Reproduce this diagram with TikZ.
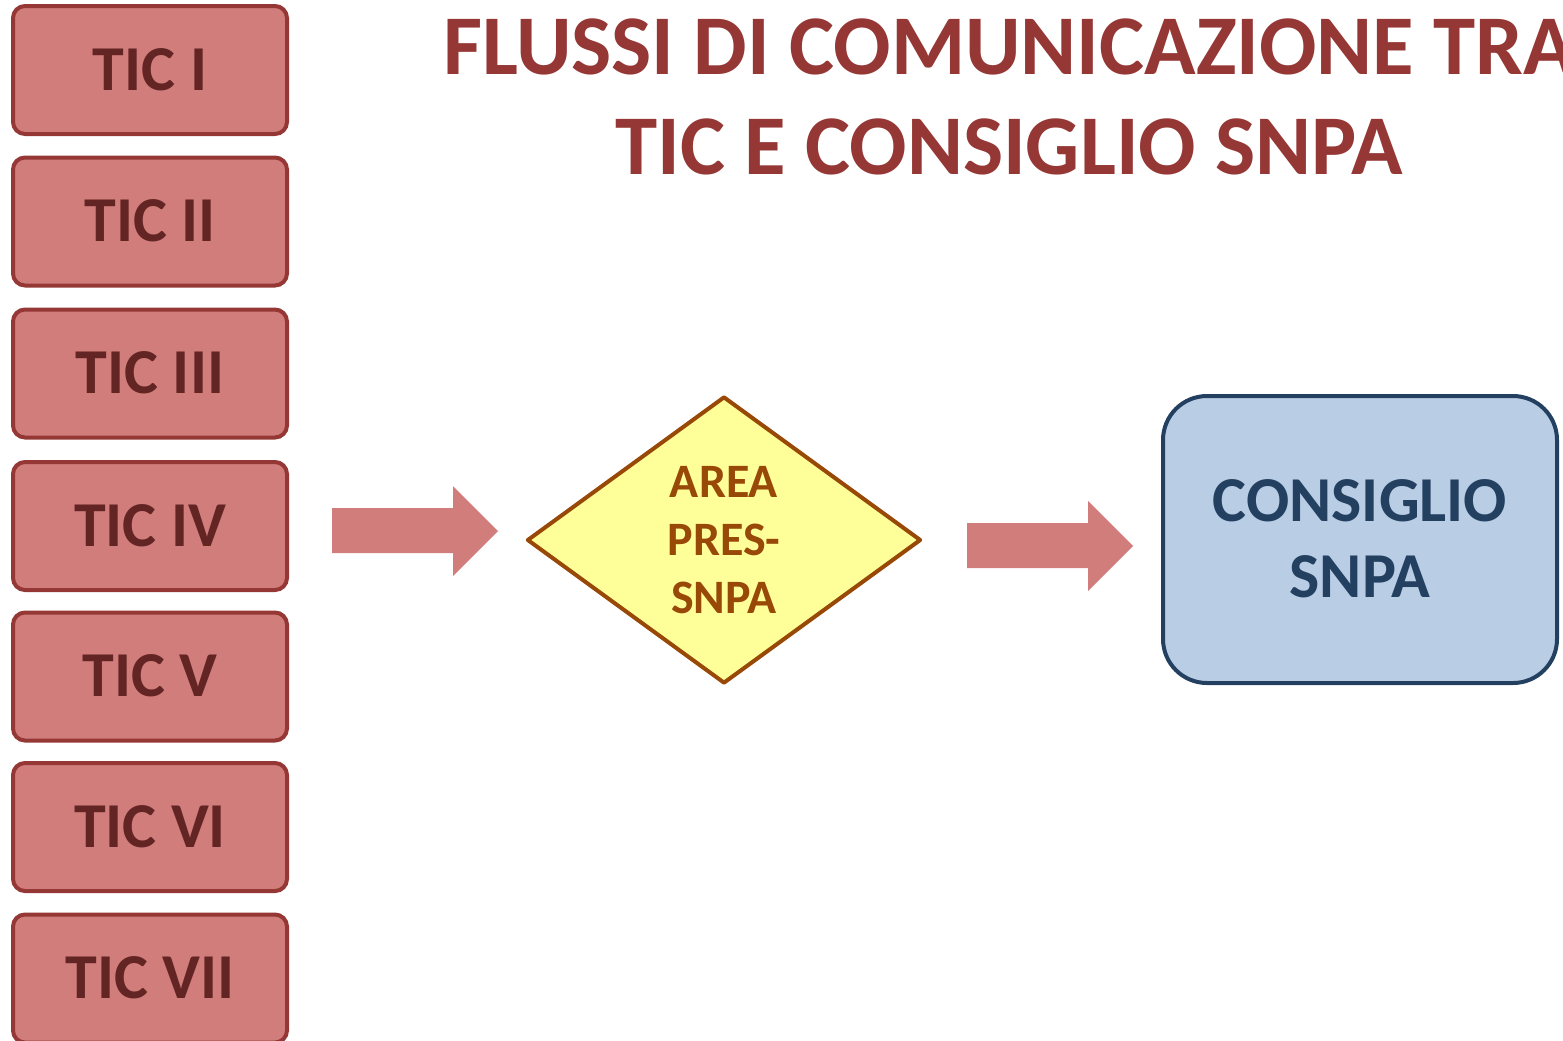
\documentclass[tikz,border=0pt]{standalone}
\usepackage{fontspec}
\setmainfont{Carlito}
\usetikzlibrary{shapes.geometric}
\definecolor{ticfill}{RGB}{208,125,123}
\definecolor{ticdraw}{RGB}{149,55,53}
\definecolor{tictext}{RGB}{99,37,35}
\definecolor{titlecol}{RGB}{149,55,53}
\definecolor{diamfill}{RGB}{255,255,153}
\definecolor{diamdraw}{RGB}{152,72,7}
\definecolor{consfill}{RGB}{185,205,229}
\definecolor{consdraw}{RGB}{36,64,97}
\tikzset{
  ticbox/.style={draw=ticdraw, fill=ticfill, line width=2pt, rounded corners=6pt,
    minimum width=137pt, minimum height=64pt, inner sep=0pt,
    font=\fontsize{32}{36}\selectfont\bfseries, text=tictext,
    text height=20.2pt, text depth=0pt},
  blockarrow/.style={fill=ticfill, draw=none}
}
\begin{document}
\begin{tikzpicture}[x=0.5pt, y=-0.5pt]
\useasboundingbox (0,0) rectangle (1563,1040);
% title
\node[font=\fontsize{42.5}{50}\selectfont\bfseries, text=titlecol, align=center,
  text height=76.8pt, text depth=0pt, inner sep=0pt] (title) at (1009,98)
  {FLUSSI DI COMUNICAZIONE TRA\\TIC E CONSIGLIO SNPA};
% TIC boxes
\node[ticbox] (t1) at (150,70) {TIC I};
\node[ticbox] (t2) at (150,221.5) {TIC II};
\node[ticbox] (t3) at (150,373.5) {TIC III};
\node[ticbox] (t4) at (150,526) {TIC IV};
\node[ticbox] (t5) at (150,676.5) {TIC V};
\node[ticbox] (t6) at (150,827) {TIC VI};
\node[ticbox] (t7) at (150,978.5) {TIC VII};
% diamond
\node[diamond, draw=diamdraw, fill=diamfill, line width=2pt, line join=round,
  minimum width=197pt, minimum height=143.5pt, inner sep=0pt,
  font=\fontsize{24}{29}\selectfont\bfseries, text=diamdraw, align=center,
  text height=73.2pt, text depth=0pt] (area) at (724,540) {AREA\\PRES-\\SNPA};
% consiglio
\node[draw=consdraw, fill=consfill, line width=2pt, rounded corners=22pt,
  minimum width=197pt, minimum height=143.5pt, inner sep=0pt,
  font=\fontsize{32}{38}\selectfont\bfseries, text=consdraw, align=center,
  text height=58.2pt, text depth=0pt] (cons) at (1360,539.5) {CONSIGLIO\\SNPA};
% block arrows
\fill[blockarrow] (332,508) -- (453,508) -- (453,486) -- (498,531) -- (453,576) -- (453,553) -- (332,553) -- cycle;
\fill[blockarrow] (967,523) -- (1088,523) -- (1088,501) -- (1133,546) -- (1088,591) -- (1088,568) -- (967,568) -- cycle;
\end{tikzpicture}
\end{document}
